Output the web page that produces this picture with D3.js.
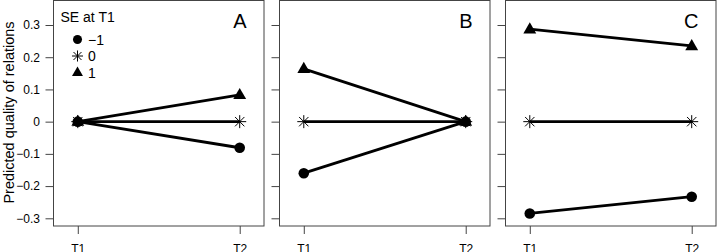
<!DOCTYPE html>
<html>
<head>
<meta charset="utf-8">
<script src="https://cdn.jsdelivr.net/npm/d3@7"></script>
<style>
  body { margin: 0; background: #fff; }
  text { font-family: "Liberation Sans", Arial, sans-serif; fill: #000; }
</style>
</head>
<body>
<div id="chart"></div>
<script>
// data
const panels = ["A", "B", "C"]
const times = ["T1", "T2"]
const seLevels = ["\u22121", "0", "1"]
// values per panel, [T1, T2]
const seLow  = [[0, -0.081], [-0.160, 0], [-0.285, -0.233]]
const seMid  = [[0, 0], [0, 0], [0, 0]]
const seHigh = [[0, 0.083], [0.164, 0], [0.287, 0.235]]
const yTicks = [-0.3, -0.2, -0.1, 0, 0.1, 0.2, 0.3]
const yTickLabels = ["\u22120.3", "\u22120.2", "\u22120.1", "0", "0.1", "0.2", "0.3"]

const W = 717, H = 252
const panelLeft = [53.5, 279.5, 505.5]
const panelW = 210.5
const boxTop = 0.5, boxBottom = 226

const svg = d3.select("#chart")
  .append("svg")
  .attr("width", W)
  .attr("height", H)

const x = d3.scaleLinear()
  .domain([0.85, 2.15])
  .range([0, panelW])

const y = d3.scaleLinear()
  .domain([-0.3, 0.3])
  .range([218.3, 25])

const series = [
  {key: seLevels[0], vals: seLow, shape: "circle"},
  {key: seLevels[1], vals: seMid, shape: "star"},
  {key: seLevels[2], vals: seHigh, shape: "triangle"}
]

function drawSymbol(g, shape, cx, cy, k = 1){
  if(shape == "circle"){
    g.append("circle").attr("cx", cx).attr("cy", cy).attr("r", 5.3 * k).attr("fill", "#000")
  } else if(shape == "triangle"){
    const s = 7 * k
    g.append("path")
      .attr("d", `M${cx},${cy - s}L${cx + s * 0.92},${cy + s * 0.6}L${cx - s * 0.92},${cy + s * 0.6}Z`)
      .attr("fill", "#000")
  } else {
    const s = 6.5 * k, d = s * 0.72
    g.append("path")
      .attr("d", `M${cx - s},${cy}H${cx + s}M${cx},${cy - s}V${cy + s}M${cx - d},${cy - d}L${cx + d},${cy + d}M${cx - d},${cy + d}L${cx + d},${cy - d}`)
      .attr("stroke", "#000")
      .attr("stroke-width", 1)
      .attr("fill", "none")
  }
}

panels.forEach((p, i) => {
  const g = svg.append("g")
    .attr("transform", `translate(${panelLeft[i]},0)`)

  // box
  g.append("rect")
    .attr("x", 0).attr("y", boxTop)
    .attr("width", panelW).attr("height", boxBottom - boxTop)
    .attr("fill", "none")
    .attr("stroke", "#444")
    .attr("stroke-width", 1)

  // y axis
  const yAxis = g.append("g")
    .call(d3.axisLeft(y).tickValues(yTicks).tickSize(8)
      .tickFormat((d, j) => i == 0 ? yTickLabels[j] : ""))
  yAxis.select(".domain").remove()
  yAxis.selectAll(".tick line").attr("stroke", "#444")
  yAxis.selectAll(".tick text")
    .attr("font-size", "12px")
    .attr("x", -13.5)
    .attr("font-family", "Liberation Sans, Arial, sans-serif")

  // x axis
  const xAxis = g.append("g")
    .attr("transform", `translate(0,${boxBottom})`)
    .call(d3.axisBottom(x).tickValues([1, 2]).tickSize(8)
      .tickFormat((d, j) => times[j]))
  xAxis.select(".domain").remove()
  xAxis.selectAll(".tick line").attr("stroke", "#444")
  xAxis.selectAll(".tick text")
    .attr("font-size", "12px")
    .attr("y", 18)
    .attr("font-family", "Liberation Sans, Arial, sans-serif")

  // lines
  series.forEach(s => {
    const pts = s.vals[i].map((v, j) => [x(j + 1), y(v)])
    g.append("path")
      .attr("d", d3.line()(pts))
      .attr("stroke", "#000")
      .attr("stroke-width", 2.8)
      .attr("fill", "none")
  })

  // points
  series.forEach(s => {
    s.vals[i].forEach((v, j) => drawSymbol(g, s.shape, x(j + 1), y(v)))
  })

  // panel letter
  g.append("text")
    .attr("x", panelW - 17.5)
    .attr("y", 28)
    .attr("text-anchor", "end")
    .attr("font-size", "20px")
    .text(p)
})

// y title
svg.append("text")
  .attr("transform", "translate(14,112.5) rotate(-90)")
  .attr("text-anchor", "middle")
  .attr("font-size", "14.5px")
  .text("Predicted quality of relations")

// legend
const legend = svg.append("g")
  .attr("transform", `translate(${panelLeft[0]},0)`)

legend.append("text")
  .attr("x", 7)
  .attr("y", 22)
  .attr("font-size", "14px")
  .text("SE at T1")

series.forEach((s, k) => {
  const ly = 39.5 + k * 16.5
  drawSymbol(legend, s.shape, 24, ly, 0.85)
  legend.append("text")
    .attr("x", 34.5)
    .attr("y", ly + 5)
    .attr("font-size", "14px")
    .text(s.key)
})
</script>
</body>
</html>
